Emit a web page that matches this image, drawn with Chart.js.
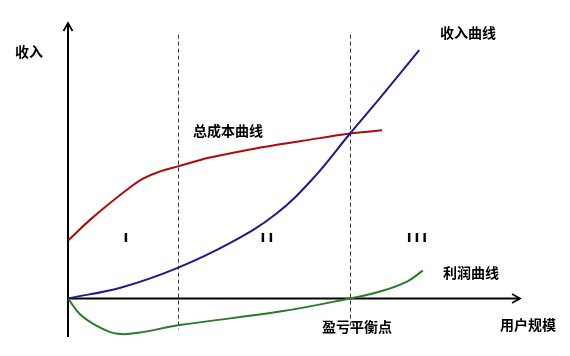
<!DOCTYPE html>
<html>
<head>
<meta charset="utf-8">
<script src="https://cdn.jsdelivr.net/npm/chart.js@4/dist/chart.umd.min.js"></script>
<style>
html,body{margin:0;padding:0;background:#fff;}
#wrap{width:570px;height:356px;position:relative;}
</style>
</head>
<body>
<div id="wrap"><canvas id="c" width="570" height="356"></canvas></div>
<script>
// Data (abstract units: x = user scale 0..100, y = income -12..88)
const revenueX = [0, 12, 24, 36, 46, 54, 62.4, 69, 77.7];
const revenueY = [0, 3.6, 9.6, 17.8, 27, 38, 52.7, 64, 79.3];
const costX = [0, 5.5, 13.1, 16.6, 20.4, 24.3, 31.4, 42.5, 51.3, 62.4, 69.5];
const costY = [18.5, 25.9, 34.8, 38.3, 40.6, 42.2, 45.0, 48.2, 50.2, 52.7, 53.7];
const profitX = [0, 2.7, 7.1, 11, 15.9, 24.3, 46.9, 62.4, 69, 75, 78.5];
const profitY = [0, -5.1, -9.3, -11.3, -10.9, -8.6, -4.2, 0, 2.2, 5.4, 8.9];
const dividerX = [24.3, 62.4];
const stageLabels = ['I', 'II', 'III'];
const stageX = [12.8, 44, 77.2];
const stageY = 19;
const axisLabelY = '收入';
const axisLabelX = '用户规模';
const seriesLabels = ['收入曲线', '总成本曲线', '利润曲线'];
const breakEvenLabel = '盈亏平衡点';

const pts = (xs, ys) => xs.map((x, i) => ({x: x, y: ys[i]}));

const FONT = 'bold 14px "Noto Sans CJK SC", sans-serif';

const decor = {
  id: 'decor',
  beforeDatasetsDraw(chart) {
    const ctx = chart.ctx;
    const xs = chart.scales.x, ys = chart.scales.y;
    ctx.save();
    // dashed dividers
    ctx.strokeStyle = '#333';
    ctx.lineWidth = 1;
    ctx.setLineDash([4, 3]);
    dividerX.forEach(v => {
      const px = Math.round(xs.getPixelForValue(v)) + 0.5;
      ctx.beginPath();
      ctx.moveTo(px, ys.getPixelForValue(84.3));
      ctx.lineTo(px, ys.getPixelForValue(-9.9));
      ctx.stroke();
    });
    ctx.setLineDash([]);
    // axes
    const x0 = xs.getPixelForValue(0), y0 = ys.getPixelForValue(0);
    const yTop = ys.getPixelForValue(ys.max), yBot = ys.getPixelForValue(ys.min) + 1;
    const xEnd = xs.getPixelForValue(xs.max);
    ctx.strokeStyle = '#000';
    ctx.lineWidth = 2;
    ctx.beginPath();
    ctx.moveTo(x0, yBot); ctx.lineTo(x0, yTop + 1);
    ctx.moveTo(x0, y0); ctx.lineTo(xEnd - 1, y0);
    ctx.stroke();
    // arrow heads
    ctx.lineWidth = 1.8;
    ctx.beginPath();
    ctx.moveTo(x0 - 4.5, yTop + 8); ctx.lineTo(x0, yTop); ctx.lineTo(x0 + 4.5, yTop + 8);
    ctx.moveTo(xEnd - 8, y0 - 4.5); ctx.lineTo(xEnd, y0); ctx.lineTo(xEnd - 8, y0 + 4.5);
    ctx.stroke();
    ctx.restore();
  },
  afterDatasetsDraw(chart) {
    const ctx = chart.ctx;
    const xs = chart.scales.x, ys = chart.scales.y;
    ctx.save();
    ctx.fillStyle = '#000';
    ctx.font = FONT;
    ctx.textBaseline = 'middle';
    ctx.textAlign = 'left';
    ctx.fillText(axisLabelY, 15, 52);
    ctx.fillText(seriesLabels[0], 440, 33);
    ctx.fillText(seriesLabels[1], 193, 131);
    ctx.fillText(seriesLabels[2], 443, 273);
    ctx.fillText(breakEvenLabel, 322, 327);
    ctx.fillText(axisLabelX, 500, 325);
    ctx.font = 'bold 13px "DejaVu Sans", sans-serif';
    ctx.textAlign = 'left';
    ctx.letterSpacing = '3px';
    stageLabels.forEach((s, i) => {
      const w = ctx.measureText(s).width - 3;
      ctx.fillText(s, xs.getPixelForValue(stageX[i]) - w / 2, ys.getPixelForValue(stageY));
    });
    ctx.restore();
  }
};

const lineDs = (data, color) => ({
  data: data,
  borderColor: color,
  borderWidth: 2,
  pointRadius: 0,
  fill: false,
  showLine: true,
  tension: 0.4
});

new Chart(document.getElementById('c'), {
  type: 'scatter',
  data: {
    datasets: [
      lineDs(pts(revenueX, revenueY), '#1c1c8c'),
      lineDs(pts(costX, costY), '#b00a0a'),
      lineDs(pts(profitX, profitY), '#2a7a2a')
    ]
  },
  options: {
    responsive: false,
    animation: false,
    layout: {padding: {left: 68, right: 50, top: 23, bottom: 20}},
    plugins: {legend: {display: false}, tooltip: {enabled: false}},
    scales: {
      x: {type: 'linear', min: 0, max: 100, display: false},
      y: {type: 'linear', min: -12, max: 88, display: false}
    }
  },
  plugins: [decor]
});
</script>
</body>
</html>
